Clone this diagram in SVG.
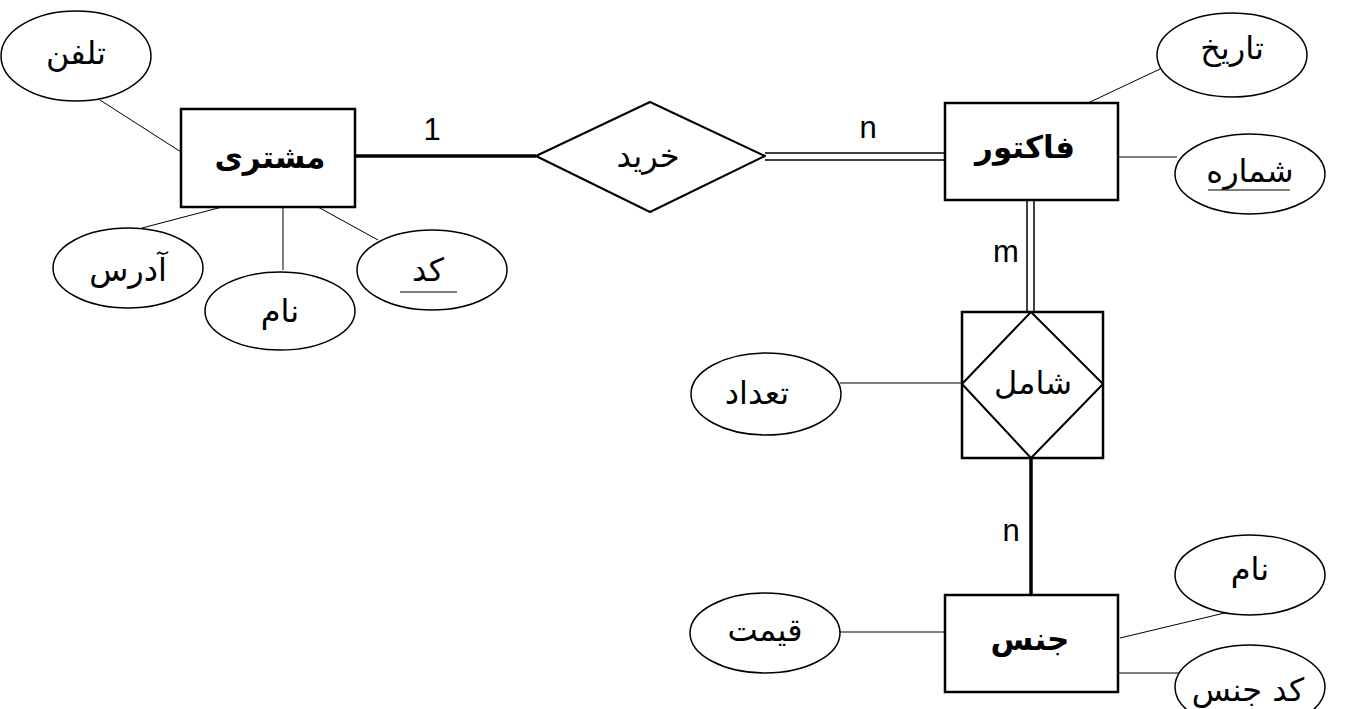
<svg xmlns="http://www.w3.org/2000/svg" width="1366" height="709" viewBox="0 0 1366 709">
<style>
.ent{fill:#fff;stroke:#000;stroke-width:2.5}
.att{fill:#fff;stroke:#000;stroke-width:1.5}
.rel{fill:#fff;stroke:#000;stroke-width:2;stroke-linejoin:round}
.thin{stroke:#000;stroke-width:1;fill:none}
.thick{stroke:#000;stroke-width:3.5;fill:none}
.dbl{stroke:#000;stroke-width:1.5;fill:none}
.et{font-family:"DejaVu Sans",sans-serif;font-size:31px;font-weight:bold;text-anchor:middle;fill:#000}
.at{font-family:"DejaVu Sans",sans-serif;font-size:32px;text-anchor:middle;fill:#000}
.lb{font-family:"Liberation Sans",Arial,sans-serif;font-size:31px;text-anchor:middle;fill:#000}
.ul{stroke:#000;stroke-width:1.2}
</style>
<rect width="1366" height="709" fill="#fff"/>
<g id="connectors">
<line class="thin" x1="100" y1="100" x2="181" y2="152"/>
<line class="thin" x1="142" y1="228" x2="222" y2="207"/>
<line class="thin" x1="283" y1="207" x2="283" y2="270"/>
<line class="thin" x1="318" y1="207" x2="378" y2="240"/>
<line class="thick" x1="355" y1="156" x2="536" y2="156"/>
<line class="dbl" x1="765" y1="153" x2="945" y2="153"/>
<line class="dbl" x1="765" y1="160" x2="945" y2="160"/>
<line class="thin" x1="1088" y1="103" x2="1160" y2="69"/>
<line class="thin" x1="1118" y1="157" x2="1177" y2="157"/>
<line class="dbl" x1="1027" y1="200" x2="1027" y2="312"/>
<line class="dbl" x1="1034" y1="200" x2="1034" y2="312"/>
<line class="thin" x1="840" y1="383" x2="962" y2="383"/>
<line class="thick" x1="1031" y1="458" x2="1031" y2="595"/>
<line class="thin" x1="840" y1="632" x2="945" y2="632"/>
<line class="thin" x1="1120" y1="638" x2="1233" y2="611"/>
<line class="thin" x1="1118" y1="673" x2="1179" y2="673"/>
<text class="lb" x="432" y="140">1</text>
<text class="lb" x="868" y="138">n</text>
<text class="lb" x="1006" y="262">m</text>
<text class="lb" x="1011" y="541">n</text>
</g>
<g id="customer">
<rect class="ent" x="181" y="109" width="174" height="98"/>
<text class="et" x="270" y="168">مشتری</text>
</g>
<g id="phone">
<ellipse class="att" cx="76" cy="56" rx="75" ry="45"/>
<text class="at" x="76" y="64">تلفن</text>
</g>
<g id="address">
<ellipse class="att" cx="128" cy="268" rx="75" ry="40"/>
<text class="at" x="128" y="281">آدرس</text>
</g>
<g id="cname">
<ellipse class="att" cx="280" cy="311" rx="75" ry="39"/>
<text class="at" x="280" y="322">نام</text>
</g>
<g id="ccode">
<ellipse class="att" cx="432" cy="270" rx="75" ry="40"/>
<text class="at" x="428" y="281">کد</text>
<line class="ul" x1="400" y1="292" x2="457" y2="292"/>
</g>
<g id="buy">
<path class="rel" d="M536,156 L650,102 L765,156 L650,212 Z"/>
<text class="at" x="648" y="167">خرید</text>
</g>
<g id="invoice">
<rect class="ent" x="945" y="103" width="173" height="97"/>
<text class="et" x="1025" y="158">فاکتور</text>
</g>
<g id="date">
<ellipse class="att" cx="1232" cy="55" rx="75" ry="42"/>
<text class="at" x="1232" y="59">تاریخ</text>
</g>
<g id="number">
<ellipse class="att" cx="1250" cy="174" rx="75" ry="40"/>
<text class="at" x="1250" y="182">شماره</text>
<line class="ul" x1="1208" y1="190" x2="1290" y2="190"/>
</g>
<g id="includes">
<rect class="ent" x="962" y="312" width="141" height="146"/>
<path class="rel" d="M1031,312 L1103,384 L1031,458 L962,384 Z"/>
<text class="at" x="1033" y="394">شامل</text>
</g>
<g id="count">
<ellipse class="att" cx="766" cy="394" rx="75" ry="41"/>
<text class="at" x="757" y="404">تعداد</text>
</g>
<g id="product">
<rect class="ent" x="945" y="595" width="173" height="97"/>
<text class="et" x="1030" y="650">جنس</text>
</g>
<g id="price">
<ellipse class="att" cx="765" cy="633" rx="75" ry="40"/>
<text class="at" x="765" y="641">قیمت</text>
</g>
<g id="pname">
<ellipse class="att" cx="1250" cy="575" rx="75" ry="40"/>
<text class="at" x="1250" y="580">نام</text>
</g>
<g id="pcode">
<ellipse class="att" cx="1250" cy="687" rx="75" ry="42"/>
<text class="at" x="1248" y="701">کد جنس</text>
</g>
</svg>
